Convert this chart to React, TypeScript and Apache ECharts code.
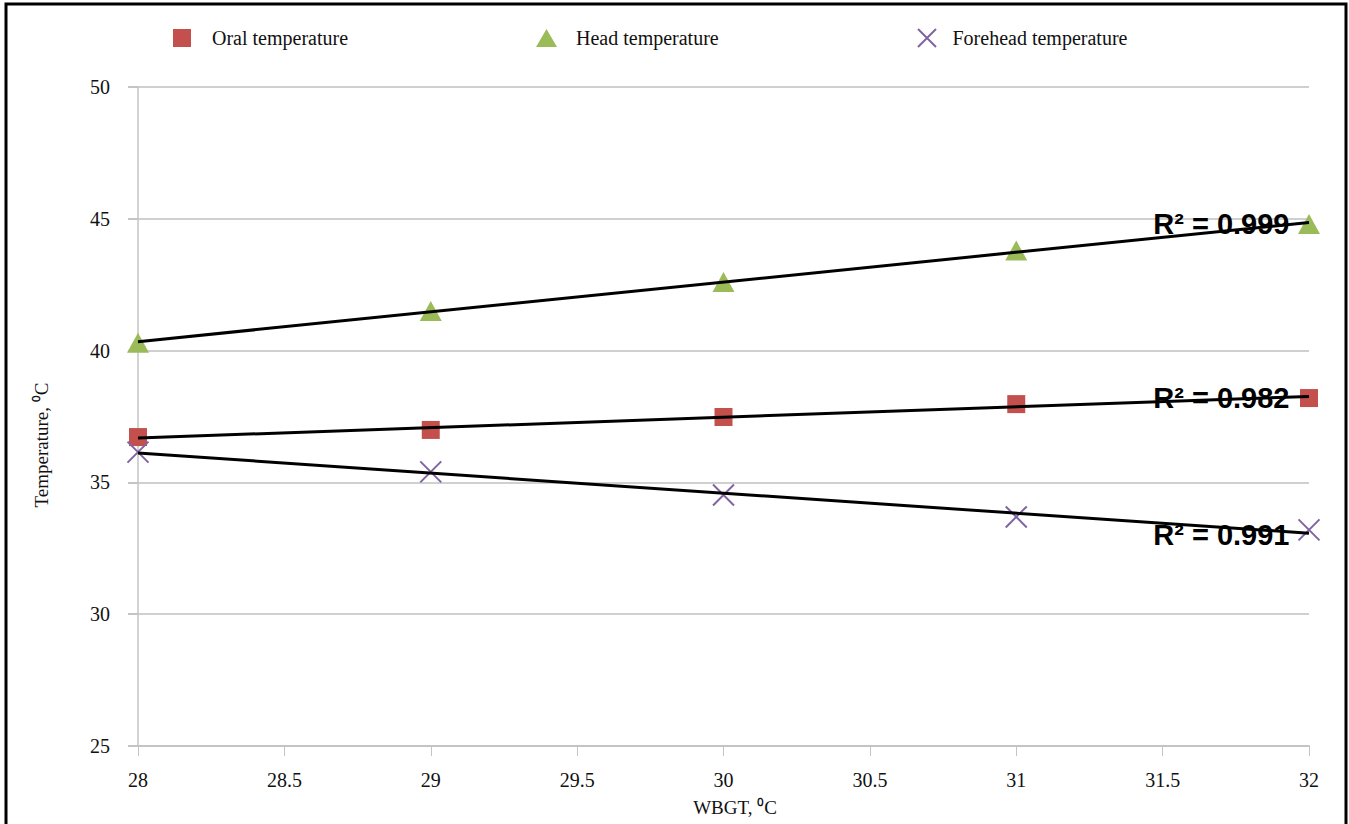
import React, { useEffect, useRef } from "react";
import * as echarts from "echarts";

const wbgt = [28, 29, 30, 31, 32];
const oral = [36.72, 36.99, 37.48, 37.97, 38.2];
const head = [40.3, 41.5, 42.6, 43.8, 44.8];
const forehead = [36.15, 35.4, 34.52, 33.69, 33.2];
const seriesNames = ["Oral temperature", "Head temperature", "Forehead temperature"];
const r2Labels = ["R² = 0.982", "R² = 0.999", "R² = 0.991"];
const colors = ["#C4504D", "#9BBB59", "#8064A2"];

const xPath = "path://M0,0L10,10M10,0L0,10";

function fit(xs: number[], ys: number[]) {
  const n = xs.length;
  const mx = xs.reduce((a, b) => a + b, 0) / n;
  const my = ys.reduce((a, b) => a + b, 0) / n;
  let sxy = 0, sxx = 0;
  for (let i = 0; i < n; i++) {
    sxy += (xs[i] - mx) * (ys[i] - my);
    sxx += (xs[i] - mx) * (xs[i] - mx);
  }
  const k = sxy / sxx;
  const b = my - k * mx;
  const x0 = xs[0], x1 = xs[n - 1];
  return [[x0, k * x0 + b], [x1, k * x1 + b]];
}

export default function App() {
  const ref = useRef<HTMLDivElement>(null);
  useEffect(() => {
    document.body.style.margin = "0";
    const chart = echarts.init(ref.current!, null, { renderer: "svg" });
    const all = [oral, head, forehead];
    const symbols = ["rect", "triangle", xPath];
    const sizes: any[] = [[18, 18], [22, 20], [21, 21]];
    const scatter = all.map((d, i) => ({
      name: seriesNames[i],
      type: "scatter",
      symbol: symbols[i],
      symbolSize: sizes[i],
      z: 2,
      itemStyle:
        i === 2
          ? { color: "rgba(0,0,0,0)", borderColor: colors[i], borderWidth: 2, opacity: 1 }
          : { color: colors[i], opacity: 1 },
      data: wbgt.map((x, j) => [x, d[j]]),
    }));
    const trends = all.map((d, i) => {
      const pts = fit(wbgt, d);
      return {
        name: "trend" + i,
        type: "line",
        z: 3,
        symbol: "circle",
        symbolSize: 1,
        showSymbol: true,
        itemStyle: { color: "rgba(0,0,0,0)" },
        lineStyle: { color: "#000", width: 3 },
        emphasis: { disabled: true },
        data: [
          { value: pts[0] },
          {
            value: pts[1],
            label: {
              show: true,
              position: "left",
              distance: 19,
              offset: [0, 2],
              formatter: r2Labels[i],
              fontFamily: "Liberation Sans",
              fontWeight: "bold",
              fontSize: 29,
              color: "#000",
              textBorderWidth: 0,
              textBorderColor: "transparent",
            },
          },
        ],
      };
    });
    const legendLefts = [168, 531, 912];
    const legends = seriesNames.map((n, i) => ({
      data: [
        i === 2
          ? { name: n, icon: xPath, itemStyle: { color: "rgba(0,0,0,0)", borderColor: colors[2], borderWidth: 2 } }
          : { name: n, icon: symbols[i] },
      ],
      left: legendLefts[i],
      top: 23,
      itemWidth: i === 0 ? 18 : 21,
      itemHeight: 18,
      textStyle: {
        fontFamily: "Liberation Serif",
        fontSize: 20,
        color: "#111",
        padding: [0, 0, 0, i === 0 ? 16 : i === 1 ? 14 : 10],
      },
    }));
    chart.setOption({
      animation: false,
      backgroundColor: "#fff",
      legend: legends,
      grid: { left: 138, right: 40, top: 87, bottom: 78 },
      xAxis: {
        type: "value",
        min: 28,
        max: 32,
        interval: 0.5,
        axisLine: { show: true, lineStyle: { color: "#c4c4c4", width: 2 } },
        axisTick: { show: true, length: 10, lineStyle: { color: "#c4c4c4", width: 1 } },
        splitLine: { show: false },
        axisLabel: { fontFamily: "Liberation Serif", fontSize: 20, color: "#111", margin: 24 },
      },
      yAxis: {
        type: "value",
        min: 25,
        max: 50,
        interval: 5,
        axisLine: { show: true, lineStyle: { color: "#c4c4c4", width: 1.5 } },
        axisTick: { show: true, length: 10, lineStyle: { color: "#c4c4c4", width: 2 } },
        splitLine: { show: true, lineStyle: { color: "#d0d0d0", width: 2 } },
        axisLabel: { fontFamily: "Liberation Serif", fontSize: 20, color: "#111", margin: 28 },
      },
      graphic: [
        {
          type: "rect",
          shape: { x: 6, y: 4, width: 1340, height: 830 },
          style: { fill: "none", stroke: "#000", lineWidth: 3 },
          z: 100,
          silent: true,
        },
        {
          type: "text",
          x: 735,
          y: 807,
          style: {
            text: "WBGT, ⁰C",
            font: "19px 'Liberation Serif'",
            fill: "#111",
            align: "center",
            verticalAlign: "middle",
          },
        },
        {
          type: "text",
          x: 41,
          y: 445,
          rotation: Math.PI / 2,
          style: {
            text: "Temperature, ⁰C",
            font: "19px 'Liberation Serif'",
            fill: "#111",
            align: "center",
            verticalAlign: "middle",
          },
        },
      ],
      series: [...scatter, ...trends],
    });
    return () => chart.dispose();
  }, []);
  return <div ref={ref} style={{ width: 1349, height: 824 }} />;
}
